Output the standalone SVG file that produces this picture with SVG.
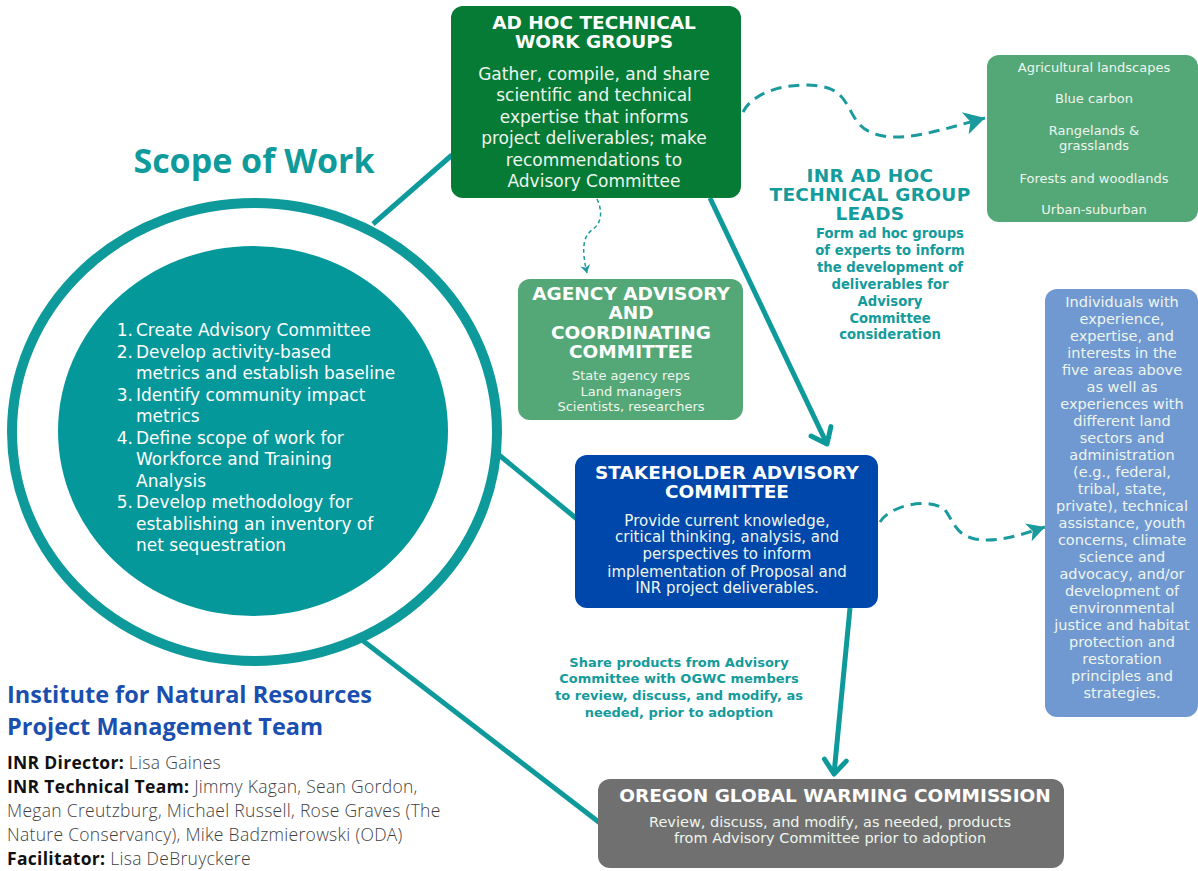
<svg xmlns="http://www.w3.org/2000/svg" width="1198" height="871" viewBox="0 0 1198 871">
<defs>
<style>
.title{font-family:"DejaVu Sans",sans-serif;font-weight:bold;font-size:18.5px;fill:#ffffff;text-anchor:middle}
.body{font-family:"DejaVu Sans",sans-serif;fill:#eef5ee;text-anchor:middle}
.teal{font-family:"DejaVu Sans",sans-serif;font-weight:bold;fill:#149b9c;text-anchor:middle}
.list{font-family:"DejaVu Sans",sans-serif;font-size:17px;fill:#ffffff}
.conn{fill:none;stroke:#0e9a9b;stroke-width:5}
.dash{fill:none;stroke:#1a9a9c;stroke-width:3;stroke-dasharray:11 7}
.info{font-family:"Open Sans",sans-serif;font-size:17.5px;letter-spacing:0.3px;font-weight:300;fill:#3f3f3f}
.lbl{font-weight:bold;fill:#111111}
.head{font-family:"Open Sans",sans-serif;font-weight:bold;font-size:23.5px;fill:#1b4faf}
</style>
<marker id="chev" markerUnits="userSpaceOnUse" viewBox="-19 -15 23 30" markerWidth="23" markerHeight="30" refX="0" refY="0" orient="auto">
<path d="M-14,-11 L0,0 L-14,11" fill="none" stroke="#0e9a9b" stroke-width="5" stroke-linecap="round" stroke-linejoin="round"/>
</marker>
<marker id="darr" markerUnits="userSpaceOnUse" viewBox="-22 -12 24 24" markerWidth="24" markerHeight="24" refX="0" refY="0" orient="auto">
<path d="M-21,-11.5 L0,0 L-20,11.5 L-15,0 Z" fill="#1a9a9c"/>
</marker>
<marker id="darr2" markerUnits="userSpaceOnUse" viewBox="-19 -10 20 20" markerWidth="20" markerHeight="20" refX="0" refY="0" orient="auto">
<path d="M-18,-9.5 L0,0 L-17,9.5 L-13,0 Z" fill="#1a9a9c"/>
</marker>
<marker id="sarr" markerUnits="userSpaceOnUse" viewBox="-9 -6 10 12" markerWidth="10" markerHeight="12" refX="0" refY="0" orient="auto">
<path d="M-8,-5 L0,0 L-8,5 L-5.5,0 Z" fill="#1a9a9c"/>
</marker>
</defs>
<rect width="1198" height="871" fill="#ffffff"/>

<g id="connectors">
<line class="conn" x1="373" y1="224" x2="452" y2="155"/>
<line class="conn" x1="499" y1="455" x2="577" y2="519"/>
<line class="conn" x1="362" y1="640" x2="600" y2="823"/>
<line class="conn" x1="710" y1="198" x2="827" y2="444" marker-end="url(#chev)"/>
<line class="conn" x1="850" y1="608" x2="834" y2="774" marker-end="url(#chev)"/>
<path class="dash" d="M743,112 C755,88 800,80 828,88 C852,96 848,122 870,132 C898,145 940,130 985,118" marker-end="url(#darr)"/>
<path fill="none" stroke="#1a9a9c" stroke-width="1.5" stroke-dasharray="4 3" d="M597,199 C602,210 603,222 592,230 C582,237 582,252 587,273" marker-end="url(#sarr)"/>
<path class="dash" d="M880,522 C890,505 930,497 945,510 C953,520 955,535 975,539 C998,543 1020,535 1045,527" marker-end="url(#darr2)"/>
</g>

<g id="scope">
<text x="254" y="173" font-family="'Open Sans',sans-serif" font-weight="bold" font-size="34" fill="#0f9a9b" text-anchor="middle">Scope of Work</text>
<ellipse cx="254.5" cy="432" rx="242.5" ry="229" fill="none" stroke="#0e9a9b" stroke-width="10"/>
<ellipse cx="253" cy="431" rx="195" ry="185" fill="#05989a"/>
<g class="list">
<text x="133" y="336" text-anchor="end">1.</text><text x="136" y="336">Create Advisory Committee</text>
<text x="133" y="358" text-anchor="end">2.</text><text x="136" y="358">Develop activity-based</text>
<text x="136" y="379">metrics and establish baseline</text>
<text x="133" y="401" text-anchor="end">3.</text><text x="136" y="401">Identify community impact</text>
<text x="136" y="422">metrics</text>
<text x="133" y="444" text-anchor="end">4.</text><text x="136" y="444">Define scope of work for</text>
<text x="136" y="465">Workforce and Training</text>
<text x="136" y="487">Analysis</text>
<text x="133" y="508" text-anchor="end">5.</text><text x="136" y="508">Develop methodology for</text>
<text x="136" y="530">establishing an inventory of</text>
<text x="136" y="551">net sequestration</text>
</g>
</g>

<g id="adhoc">
<rect x="451" y="6" width="290" height="192" rx="12" fill="#057b35"/>
<text class="title" x="594" y="29">AD HOC TECHNICAL</text>
<text class="title" x="594" y="48">WORK GROUPS</text>
<g class="body" font-size="17">
<text x="594" y="80">Gather, compile, and share</text>
<text x="594" y="101">scientific and technical</text>
<text x="594" y="123">expertise that informs</text>
<text x="594" y="144">project deliverables; make</text>
<text x="594" y="166">recommendations to</text>
<text x="594" y="187">Advisory Committee</text>
</g>
</g>

<g id="areas">
<rect x="987" y="55" width="211" height="167" rx="12" fill="#54a877"/>
<g class="body" font-size="13">
<text x="1094" y="72">Agricultural landscapes</text>
<text x="1094" y="103">Blue carbon</text>
<text x="1094" y="135">Rangelands &amp;</text>
<text x="1094" y="150">grasslands</text>
<text x="1094" y="183">Forests and woodlands</text>
<text x="1094" y="214">Urban-suburban</text>
</g>
</g>

<g id="leads">
<g class="teal" font-size="18.5" letter-spacing="0.3">
<text x="870" y="182">INR AD HOC</text>
<text x="870" y="201">TECHNICAL GROUP</text>
<text x="870" y="220">LEADS</text>
</g>
<g class="teal" font-size="13.2">
<text x="890" y="238">Form ad hoc groups</text>
<text x="890" y="255">of experts to inform</text>
<text x="890" y="272">the development of</text>
<text x="890" y="289">deliverables for</text>
<text x="890" y="306">Advisory</text>
<text x="890" y="323">Committee</text>
<text x="890" y="339">consideration</text>
</g>
</g>

<g id="agency">
<rect x="518" y="279" width="225" height="141" rx="12" fill="#54a877"/>
<text class="title" x="631" y="300">AGENCY ADVISORY</text>
<text class="title" x="631" y="319">AND</text>
<text class="title" x="631" y="339">COORDINATING</text>
<text class="title" x="631" y="358">COMMITTEE</text>
<g class="body" font-size="13">
<text x="631" y="380">State agency reps</text>
<text x="631" y="396">Land managers</text>
<text x="631" y="411">Scientists, researchers</text>
</g>
</g>

<g id="stakeholder">
<rect x="575" y="455" width="303" height="153" rx="12" fill="#0047ab"/>
<text class="title" x="727" y="479">STAKEHOLDER ADVISORY</text>
<text class="title" x="727" y="498">COMMITTEE</text>
<g class="body" font-size="15">
<text x="727" y="526">Provide current knowledge,</text>
<text x="727" y="542">critical thinking, analysis, and</text>
<text x="727" y="559">perspectives to inform</text>
<text x="727" y="577">implementation of Proposal and</text>
<text x="727" y="593">INR project deliverables.</text>
</g>
</g>

<g id="individuals">
<rect x="1045" y="289" width="153" height="428" rx="12" fill="#7099d1"/>
<g class="body" font-size="14.5" fill="#e8eff9">
<text x="1122" y="307">Individuals with</text>
<text x="1122" y="324">experience,</text>
<text x="1122" y="341">expertise, and</text>
<text x="1122" y="358">interests in the</text>
<text x="1122" y="375">five areas above</text>
<text x="1122" y="392">as well as</text>
<text x="1122" y="409">experiences with</text>
<text x="1122" y="426">different land</text>
<text x="1122" y="443">sectors and</text>
<text x="1122" y="460">administration</text>
<text x="1122" y="477">(e.g., federal,</text>
<text x="1122" y="494">tribal, state,</text>
<text x="1122" y="511">private), technical</text>
<text x="1122" y="528">assistance, youth</text>
<text x="1122" y="545">concerns, climate</text>
<text x="1122" y="562">science and</text>
<text x="1122" y="579">advocacy, and/or</text>
<text x="1122" y="596">development of</text>
<text x="1122" y="613">environmental</text>
<text x="1122" y="630">justice and habitat</text>
<text x="1122" y="647">protection and</text>
<text x="1122" y="664">restoration</text>
<text x="1122" y="681">principles and</text>
<text x="1122" y="698">strategies.</text>
</g>
</g>

<g id="share">
<g class="teal" font-size="13">
<text x="679" y="667">Share products from Advisory</text>
<text x="679" y="683">Committee with OGWC members</text>
<text x="679" y="700">to review, discuss, and modify, as</text>
<text x="679" y="717">needed, prior to adoption</text>
</g>
</g>

<g id="ogwc">
<rect x="598" y="779" width="466" height="89" rx="12" fill="#707070"/>
<text class="title" x="835" y="802">OREGON GLOBAL WARMING COMMISSION</text>
<g class="body" font-size="14.5">
<text x="830" y="827">Review, discuss, and modify, as needed, products</text>
<text x="830" y="843">from Advisory Committee prior to adoption</text>
</g>
</g>

<g id="team">
<text class="head" x="7" y="703">Institute for Natural Resources</text>
<text class="head" x="7" y="735">Project Management Team</text>
<text class="info" x="7" y="769"><tspan class="lbl">INR Director:</tspan> Lisa Gaines</text>
<text class="info" x="7" y="793"><tspan class="lbl">INR Technical Team:</tspan> Jimmy Kagan, Sean Gordon,</text>
<text class="info" x="7" y="817">Megan Creutzburg, Michael Russell, Rose Graves (The</text>
<text class="info" x="7" y="841">Nature Conservancy), Mike Badzmierowski (ODA)</text>
<text class="info" x="7" y="865"><tspan class="lbl">Facilitator:</tspan> Lisa DeBruyckere</text>
</g>
</svg>
